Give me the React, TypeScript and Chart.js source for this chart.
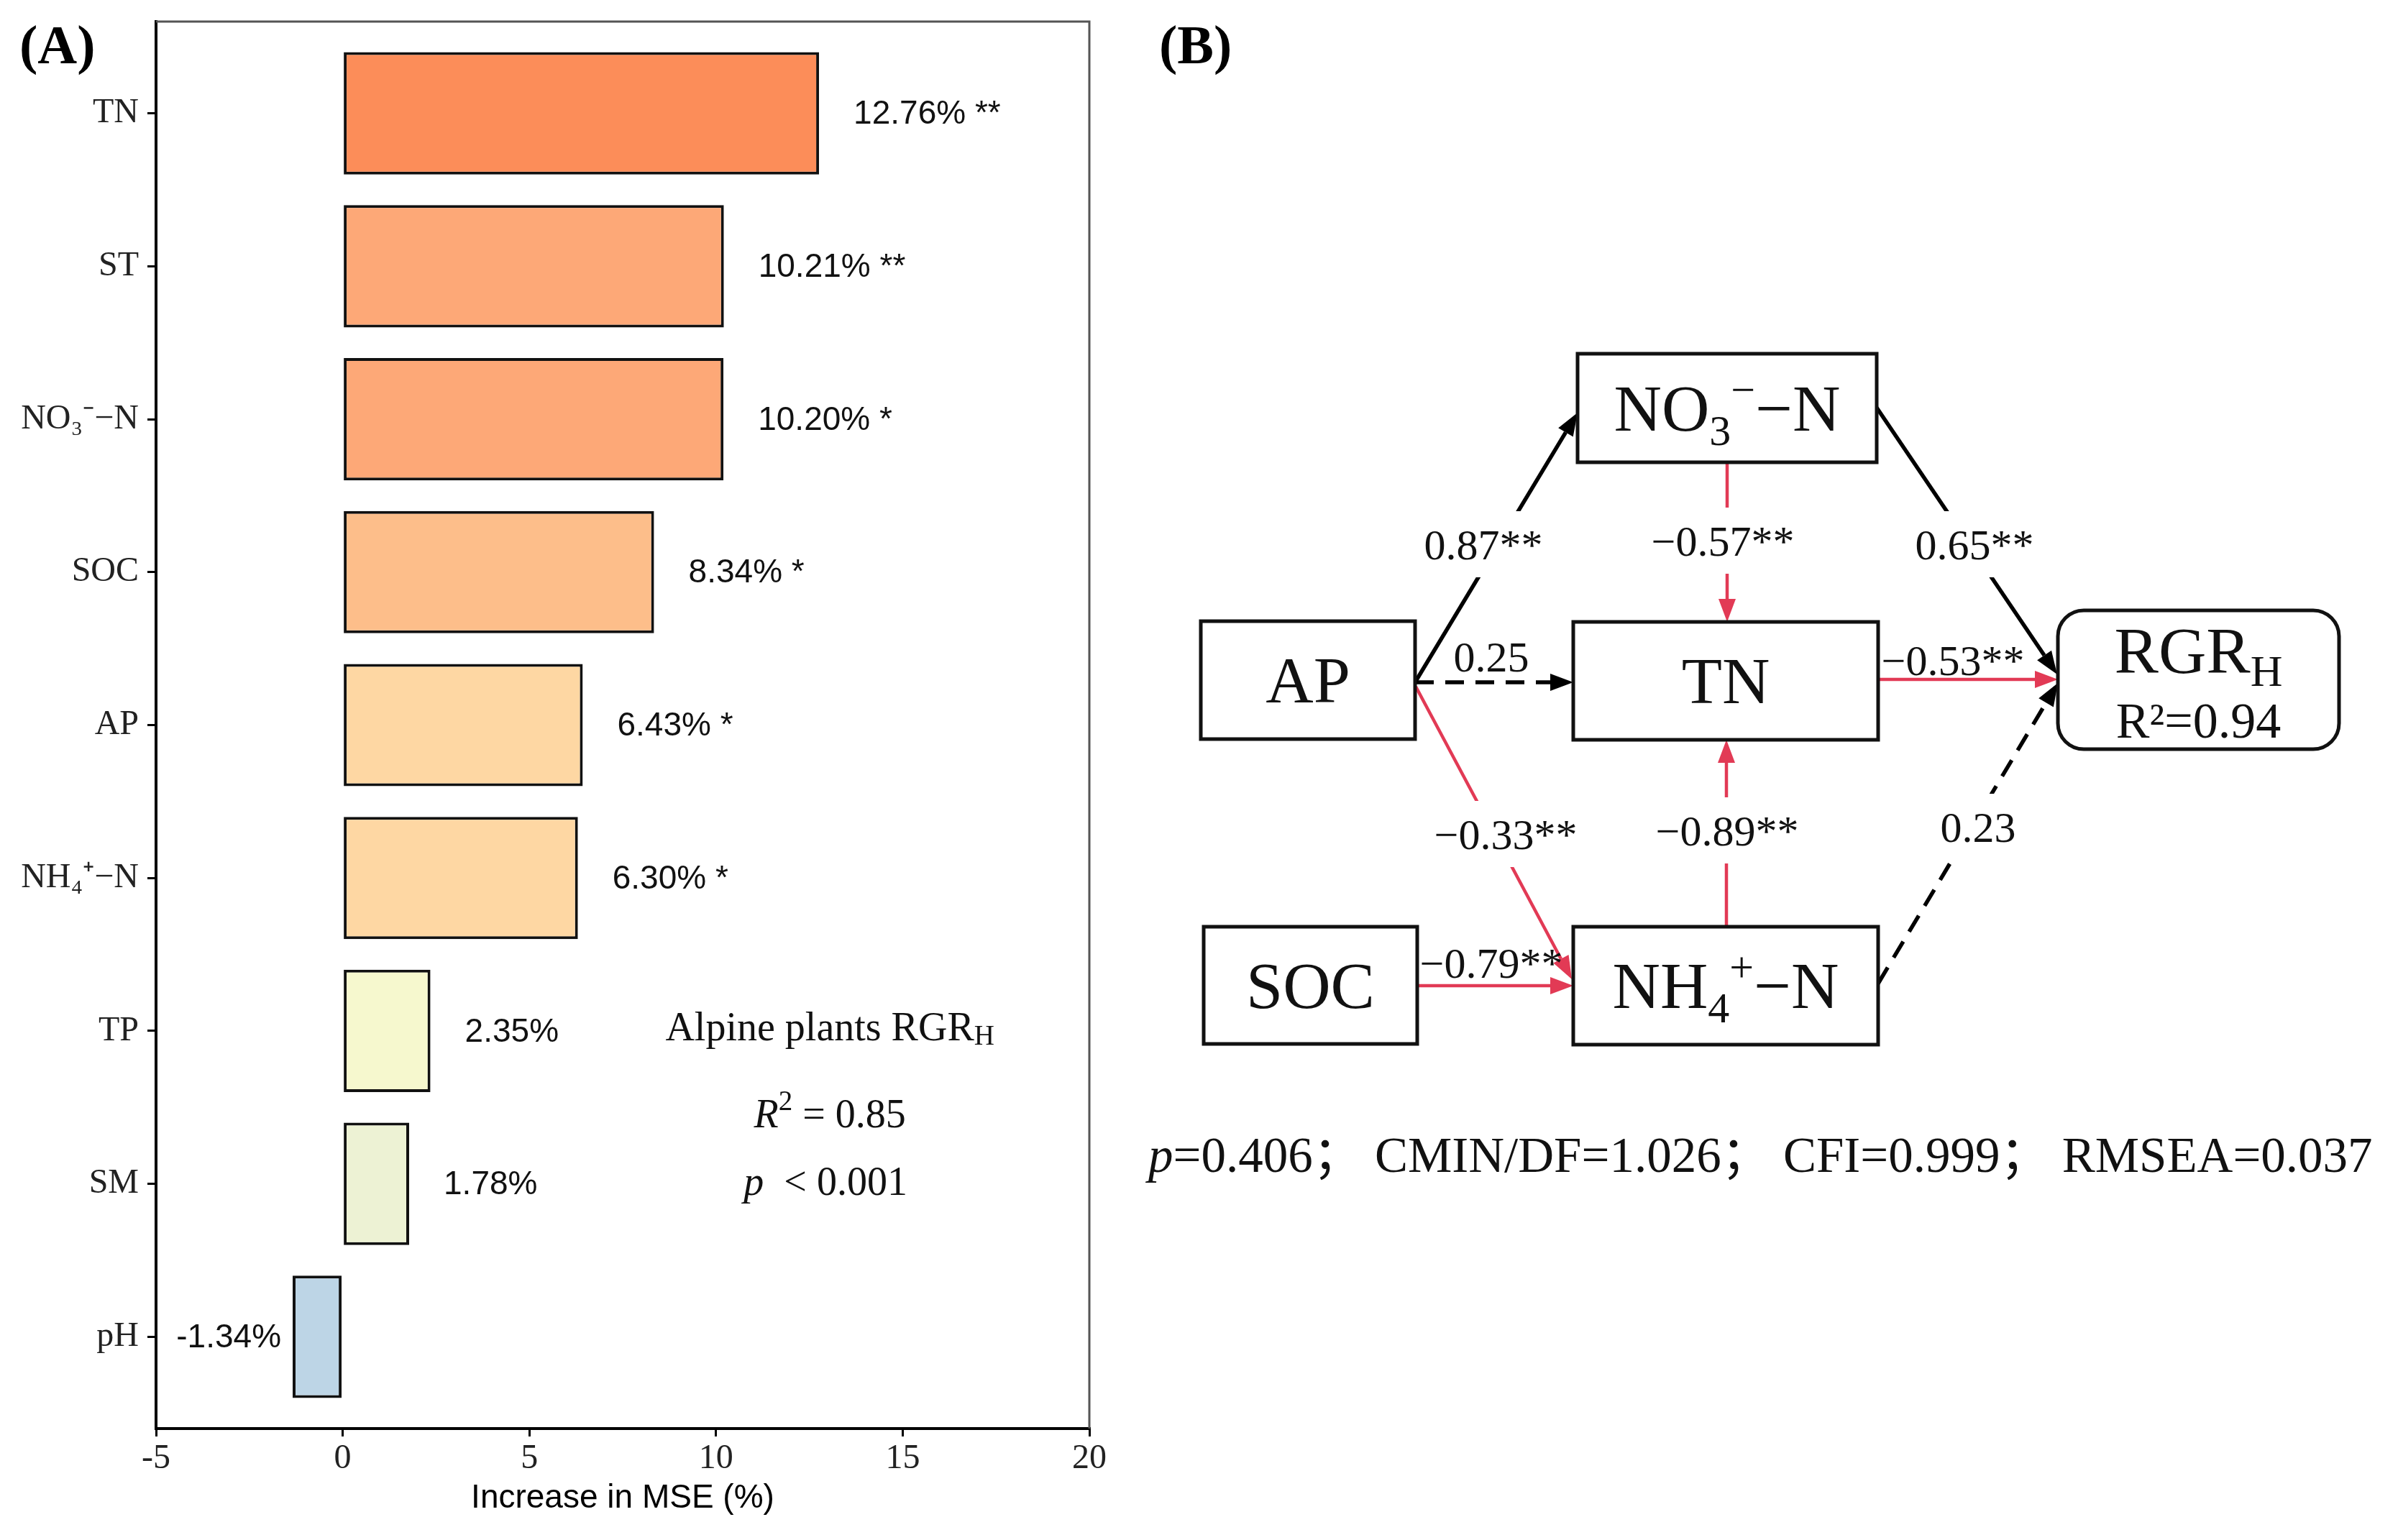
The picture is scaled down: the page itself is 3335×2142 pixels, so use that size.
import { useEffect, useRef } from 'react';
import { Chart, registerables } from 'chart.js';

Chart.register(...registerables);

const SERIF = "'Liberation Serif', 'Noto Sans CJK SC', serif";
const SANS = "'Liberation Sans', Arial, sans-serif";

// ---------------- Panel A data ----------------
const predictors = ['TN', 'ST', 'NO₃⁻−N', 'SOC', 'AP', 'NH₄⁺−N', 'TP', 'SM', 'pH'];
const incMSE = [12.76, 10.21, 10.2, 8.34, 6.43, 6.3, 2.35, 1.78, -1.34];
const incMSESig = ['**', '**', '*', '*', '*', '*', '', '', ''];
const barFill = ['#FC8D59', '#FDA877', '#FDA877', '#FDBE8A', '#FED7A3', '#FED7A3', '#F6F8CE', '#EDF2D4', '#BDD5E6'];
const xTickValues = [-5, 0, 5, 10, 15, 20];
const rfResponse = 'Alpine plants RGR';
const rfR2 = '0.85';
const rfP = '0.001';

// ---------------- Panel B data ----------------
const semNodeIds = ['AP', 'SOC', 'NO3', 'TN', 'NH4', 'RGR'];
const pathFrom = ['AP', 'AP', 'AP', 'SOC', 'NO3', 'NH4', 'NO3', 'TN', 'NH4'];
const pathTo = ['NO3', 'TN', 'NH4', 'NH4', 'TN', 'TN', 'RGR', 'RGR', 'RGR'];
const pathCoef = [0.87, 0.25, -0.33, -0.79, -0.57, -0.89, 0.65, -0.53, 0.23];
const pathSig = ['**', '', '**', '**', '**', '**', '**', '**', ''];
const rgrR2 = '0.94';
const fitNames = ['p', 'CMIN/DF', 'CFI', 'RMSEA'];
const fitValues = ['0.406', '1.026', '0.999', '0.037'];

// ---------------- Layout (diagram units = page pixels) ----------------
const nodeBox: Record<string, number[]> = {
  AP: [1670, 864, 1968, 1028],
  SOC: [1674, 1289, 1971, 1452],
  NO3: [2194, 492, 2610, 643],
  TN: [2188, 865, 2612, 1029],
  NH4: [2188, 1289, 2612, 1453],
  RGR: [2862, 849, 3253, 1042],
};
// x1, y1, x2, y2, labelX, labelY, breakLine  (path i goes pathFrom[i] -> pathTo[i])
const pathGeom = [
  [1968, 949, 2194, 574, 2063, 757, 1],
  [1968, 949, 2188, 949, 2074, 913, 0],
  [1969, 955, 2186, 1362, 2094, 1160, 1],
  [1972, 1371, 2188, 1371, 2074, 1339, 0],
  [2402, 643, 2402, 865, 2396, 752, 1],
  [2401, 1289, 2401, 1029, 2402, 1155, 1],
  [2610, 567, 2861, 938, 2746, 757, 1],
  [2612, 945, 2862, 945, 2716, 918, 0],
  [2612, 1368, 2862, 950, 2751, 1150, 1],
];

type Seg = { t: string; scale?: number; dy?: number; italic?: boolean; bold?: boolean };

function drawRich(
  ctx: CanvasRenderingContext2D,
  segs: Seg[],
  x: number,
  y: number,
  size: number,
  family: string,
  align: 'left' | 'center' | 'right',
  color = '#000'
) {
  const fontFor = (s: Seg) =>
    `${s.italic ? 'italic ' : ''}${s.bold ? 'bold ' : ''}${Math.round(size * (s.scale ?? 1))}px ${family}`;
  let total = 0;
  const widths = segs.map((s) => {
    ctx.font = fontFor(s);
    const w = ctx.measureText(s.t).width;
    total += w;
    return w;
  });
  let cx = align === 'left' ? x : align === 'center' ? x - total / 2 : x - total;
  ctx.save();
  ctx.textBaseline = 'alphabetic';
  ctx.textAlign = 'left';
  ctx.fillStyle = color;
  segs.forEach((s, i) => {
    ctx.font = fontFor(s);
    ctx.fillText(s.t, cx, y + (s.dy ?? 0) * size);
    cx += widths[i];
  });
  ctx.restore();
  return total;
}

const panelAPlugin = {
  id: 'panelA',
  afterDraw(chart: any) {
    const ctx: CanvasRenderingContext2D = chart.ctx;
    const { left, right, top, bottom } = chart.chartArea;
    const xs = chart.scales.x;
    const ys = chart.scales.y;
    // top & right frame
    ctx.save();
    ctx.strokeStyle = '#555';
    ctx.lineWidth = 3;
    ctx.beginPath();
    ctx.moveTo(left, top);
    ctx.lineTo(right, top);
    ctx.lineTo(right, bottom);
    ctx.stroke();
    ctx.restore();

    // value labels
    const meta = chart.getDatasetMeta(0);
    ctx.save();
    ctx.font = `46px ${SANS}`;
    ctx.fillStyle = '#111';
    ctx.textBaseline = 'middle';
    meta.data.forEach((el: any, i: number) => {
      const v = incMSE[i];
      const txt = `${v.toFixed(2)}%${incMSESig[i] ? ' ' + incMSESig[i] : ''}`;
      if (v >= 0) {
        ctx.textAlign = 'left';
        ctx.fillText(txt, el.x + 48, el.y + 2);
      } else {
        ctx.textAlign = 'right';
        ctx.fillText(txt, el.x - 16, el.y + 2);
      }
    });
    ctx.restore();

    // annotation
    const ax = xs.getPixelForValue(13.05);
    drawRich(ctx, [{ t: rfResponse }, { t: 'H', scale: 0.7, dy: 0.12 }], ax, ys.getPixelForValue(6.06), 56, SERIF, 'center', '#111');
    drawRich(
      ctx,
      [{ t: 'R', italic: true }, { t: '2', scale: 0.7, dy: -0.42 }, { t: ' = ' + rfR2 }],
      ax,
      ys.getPixelForValue(6.63),
      56,
      SERIF,
      'center',
      '#111'
    );
    drawRich(ctx, [{ t: 'p', italic: true }, { t: '  < ' + rfP }], ax - 6, ys.getPixelForValue(7.07), 56, SERIF, 'center', '#111');

    // panel tag
    drawRich(ctx, [{ t: '(A)', bold: true }], 27, 88, 76, SERIF, 'left', '#000');
  },
};

function nodeLabel(id: string): Seg[] {
  if (id === 'NO3') return [{ t: 'NO' }, { t: '3', scale: 0.65, dy: 0.22 }, { t: '−', scale: 0.65, dy: -0.4 }, { t: '−N' }];
  if (id === 'NH4') return [{ t: 'NH' }, { t: '4', scale: 0.65, dy: 0.22 }, { t: '+', scale: 0.65, dy: -0.4 }, { t: '−N' }];
  if (id === 'RGR') return [{ t: 'RGR' }, { t: 'H', scale: 0.67, dy: 0.2 }];
  return [{ t: id }];
}

function fmtCoef(v: number) {
  return (v < 0 ? '−' : '') + Math.abs(v).toFixed(2);
}

const RED = '#E23A55';

const panelBPlugin = {
  id: 'panelB',
  afterDraw(chart: any) {
    const ctx: CanvasRenderingContext2D = chart.ctx;
    const xs = chart.scales.x;
    const ys = chart.scales.y;
    const X = (v: number) => xs.getPixelForValue(v);
    const Y = (v: number) => ys.getPixelForValue(v);

    // paths
    pathFrom.forEach((_, i) => {
      const g = pathGeom[i];
      const x1 = X(g[0]), y1 = Y(g[1]), x2 = X(g[2]), y2 = Y(g[3]);
      const neg = pathCoef[i] < 0;
      const dashed = pathSig[i] === '';
      const color = neg ? RED : '#000';
      const lw = neg ? 4.5 : 5.5;
      const ang = Math.atan2(y2 - y1, x2 - x1);
      const L = 32, W = 12;
      const bx = x2 - L * Math.cos(ang), by = y2 - L * Math.sin(ang);
      ctx.save();
      ctx.strokeStyle = color;
      ctx.lineWidth = lw;
      ctx.setLineDash(dashed ? [26, 16] : []);
      ctx.beginPath();
      ctx.moveTo(x1, y1);
      ctx.lineTo(bx, by);
      ctx.stroke();
      ctx.setLineDash([]);
      ctx.fillStyle = color;
      ctx.beginPath();
      ctx.moveTo(x2, y2);
      ctx.lineTo(bx + W * Math.sin(ang), by - W * Math.cos(ang));
      ctx.lineTo(bx - W * Math.sin(ang), by + W * Math.cos(ang));
      ctx.closePath();
      ctx.fill();
      ctx.restore();
    });

    // label backgrounds breaking lines
    ctx.save();
    ctx.font = `60px ${SERIF}`;
    pathFrom.forEach((_, i) => {
      const g = pathGeom[i];
      if (!g[6]) return;
      const txt = fmtCoef(pathCoef[i]) + pathSig[i];
      const w = ctx.measureText(txt).width + 10;
      ctx.fillStyle = '#fff';
      ctx.fillRect(X(g[4]) - w / 2, Y(g[5]) - 46, w, 92);
    });
    ctx.restore();

    // boxes
    semNodeIds.forEach((id) => {
      const b = nodeBox[id];
      const x1 = X(b[0]), y1 = Y(b[1]), x2 = X(b[2]), y2 = Y(b[3]);
      ctx.save();
      ctx.lineWidth = 5;
      ctx.strokeStyle = '#111';
      ctx.fillStyle = '#fff';
      ctx.beginPath();
      if (id === 'RGR') ctx.roundRect(x1, y1, x2 - x1, y2 - y1, 36);
      else ctx.rect(x1, y1, x2 - x1, y2 - y1);
      ctx.fill();
      ctx.stroke();
      ctx.restore();
      const cx = (x1 + x2) / 2, cy = (y1 + y2) / 2;
      if (id === 'RGR') {
        drawRich(ctx, nodeLabel(id), cx, cy - 10, 92, SERIF, 'center', '#111');
        drawRich(ctx, [{ t: 'R²=' + rgrR2 }], cx, cy + 80, 70, SERIF, 'center', '#111');
      } else {
        drawRich(ctx, nodeLabel(id), cx, cy + 31, 92, SERIF, 'center', '#111');
      }
    });

    // path labels
    pathFrom.forEach((_, i) => {
      const g = pathGeom[i];
      const txt = fmtCoef(pathCoef[i]) + pathSig[i];
      drawRich(ctx, [{ t: txt }], X(g[4]), Y(g[5]) + 21, 60, SERIF, 'center', '#111');
    });

    // fit statistics
    const segs: Seg[] = [];
    fitNames.forEach((n, i) => {
      if (i > 0) segs.push({ t: '； ' });
      segs.push({ t: n, italic: n === 'p' });
      segs.push({ t: '=' + fitValues[i] });
    });
    drawRich(ctx, segs, X(1597), Y(1630), 69, SERIF, 'left', '#111');

    // panel tag
    drawRich(ctx, [{ t: '(B)', bold: true }], X(1612), Y(88), 76, SERIF, 'left', '#000');
  },
};

export default function App() {
  const refA = useRef<HTMLCanvasElement>(null);
  const refB = useRef<HTMLCanvasElement>(null);

  useEffect(() => {
    const chartA = new Chart(refA.current!, {
      type: 'bar',
      data: {
        datasets: [
          {
            data: incMSE.map((v, i) => ({ x: v, y: i })),
            backgroundColor: barFill,
            borderColor: '#111',
            borderWidth: 4,
            borderSkipped: false,
            barPercentage: 0.8,
            categoryPercentage: 1,
          } as any,
        ],
      },
      options: {
        indexAxis: 'y',
        animation: false,
        responsive: false,
        maintainAspectRatio: false,
        events: [],
        layout: { padding: { top: 30, right: 45, left: 0, bottom: 0 } },
        plugins: { legend: { display: false }, tooltip: { enabled: false } },
        scales: {
          x: {
            type: 'linear',
            min: -5,
            max: 20,
            afterBuildTicks: (s: any) => {
              s.ticks = xTickValues.map((v) => ({ value: v }));
            },
            afterFit: (s: any) => {
              s.height = 155;
            },
            ticks: {
              autoSkip: false,
              maxRotation: 0,
              padding: 3,
              color: '#222',
              font: { family: SERIF, size: 48 },
              callback: (v: any) => String(v),
            },
            grid: { drawOnChartArea: false, drawTicks: true, tickLength: 11, color: '#000', lineWidth: 3 },
            border: { display: true, color: '#000', width: 4 },
            title: {
              display: true,
              text: 'Increase in MSE (%)',
              color: '#000',
              font: { family: SANS, size: 46 },
              padding: { top: 0, bottom: 30 },
            },
          },
          y: {
            type: 'linear',
            reverse: true,
            offset: false,
            min: -0.6,
            max: 8.6,
            afterBuildTicks: (s: any) => {
              s.ticks = predictors.map((_, i) => ({ value: i }));
            },
            afterFit: (s: any) => {
              s.width = 217;
              s.paddingTop = 0;
              s.paddingBottom = 0;
            },
            ticks: {
              autoSkip: false,
              padding: 12,
              color: '#222',
              font: { family: SERIF, size: 48 },
              callback: (v: any) => predictors[v as number] ?? '',
            },
            grid: { offset: false, drawOnChartArea: false, drawTicks: true, tickLength: 12, color: '#000', lineWidth: 3 },
            border: { display: true, color: '#000', width: 4 },
          },
        },
      } as any,
      plugins: [panelAPlugin],
    });

    const chartB = new Chart(refB.current!, {
      type: 'scatter',
      data: { datasets: [] },
      options: {
        animation: false,
        responsive: false,
        maintainAspectRatio: false,
        events: [],
        layout: { padding: 0 },
        plugins: { legend: { display: false }, tooltip: { enabled: false } },
        scales: {
          x: { type: 'linear', min: 1560, max: 3335, display: false },
          y: { type: 'linear', min: 0, max: 2142, reverse: true, display: false },
        },
      } as any,
      plugins: [panelBPlugin],
    });

    return () => {
      chartA.destroy();
      chartB.destroy();
    };
  }, []);

  return (
    <div style={{ position: 'absolute', left: 0, top: 0, width: 3335, height: 2142, background: '#fff', overflow: 'hidden' }}>
      <canvas ref={refA} width={1560} height={2142} style={{ position: 'absolute', left: 0, top: 0, width: 1560, height: 2142 }} />
      <canvas ref={refB} width={1775} height={2142} style={{ position: 'absolute', left: 1560, top: 0, width: 1775, height: 2142 }} />
    </div>
  );
}
